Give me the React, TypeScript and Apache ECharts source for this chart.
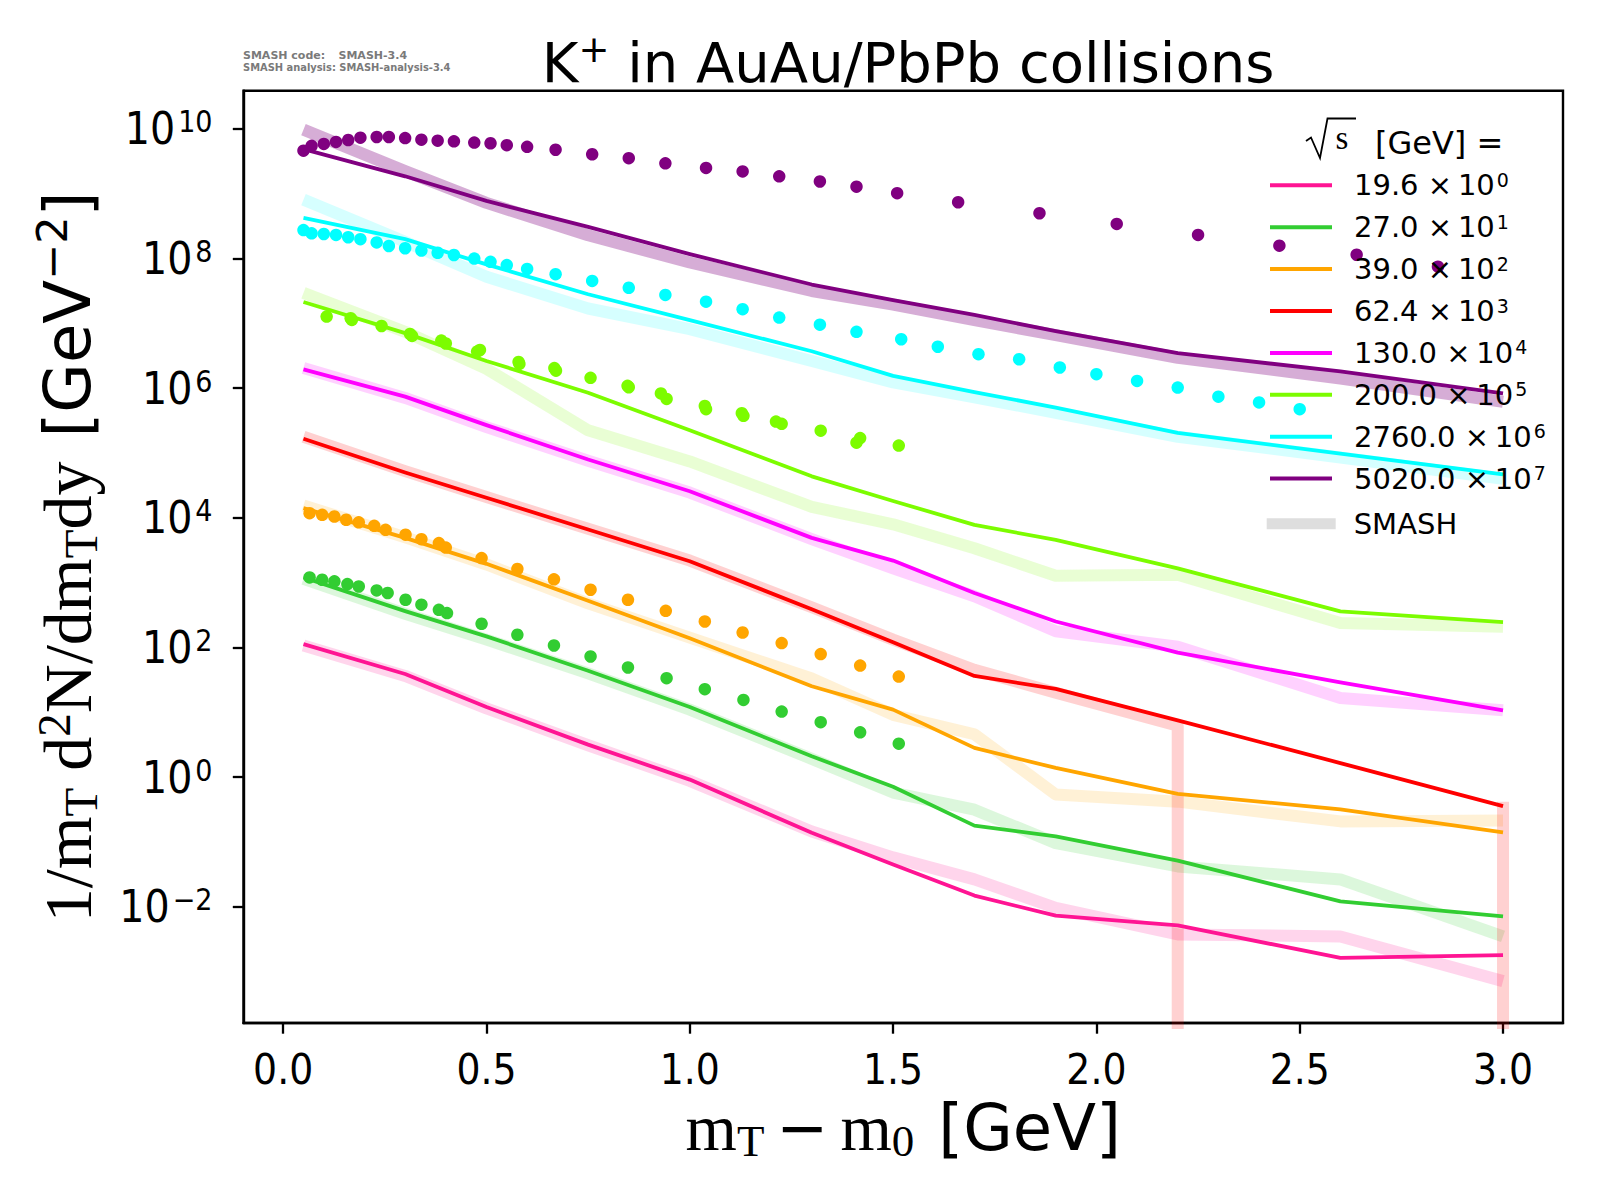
import React, { useEffect, useRef } from 'react';
import * as echarts from 'echarts';

// ---------- data (y values are log10 of 1/mT d2N/dmT dy, x is mT - m0 in GeV) ----------
const energies = ['19.6', '27.0', '39.0', '62.4', '130.0', '200.0', '2760.0', '5020.0'];
const scaleExponents = [0, 1, 2, 3, 4, 5, 6, 7];
const colors = ['#ff1493', '#32cd32', '#ffa500', '#ff0000', '#ff00ff', '#7cfc00', '#00ffff', '#800080'];
const bandAlpha = [0.18, 0.17, 0.16, 0.18, 0.18, 0.17, 0.16, 0.32];

const xTicks = [0, 0.5, 1.0, 1.5, 2.0, 2.5, 3.0];
const yTickExponents = [-2, 0, 2, 4, 6, 8, 10];

const lineX = [0.05, 0.3, 0.5, 0.75, 1.0, 1.3, 1.5, 1.7, 1.9, 2.2, 2.6, 3.0];

const line196 = [2.05, 1.59, 1.08, 0.5, -0.04, -0.86, -1.35, -1.83, -2.14, -2.29, -2.79, -2.75];
const line270 = [3.08, 2.56, 2.17, 1.64, 1.08, 0.32, -0.15, -0.75, -0.915, -1.29, -1.92, -2.15];
const line390 = [4.15, 3.69, 3.29, 2.72, 2.14, 1.4, 1.04, 0.45, 0.14, -0.26, -0.5, -0.855];
const line624 = [5.22, 4.7, 4.31, 3.82, 3.33, 2.59, 2.08, 1.56, 1.36, 0.875, 0.215, -0.45];
const line1300 = [6.29, 5.87, 5.43, 4.9, 4.41, 3.69, 3.34, 2.84, 2.4, 1.92, 1.46, 1.03];
const line2000 = [7.33, 6.85, 6.42, 5.93, 5.35, 4.64, 4.26, 3.89, 3.66, 3.22, 2.555, 2.39];
const line27600 = [8.63, 8.3, 7.91, 7.45, 7.05, 6.57, 6.19, 5.94, 5.7, 5.31, 4.99, 4.67];
const line50200 = [9.69, 9.27, 8.89, 8.49, 8.07, 7.6, 7.36, 7.13, 6.88, 6.54, 6.26, 5.92];

// SMASH bands
const ZERO_LOG = -8; // a value of zero, below the log axis
const band196 = [2.03, 1.56, 1.06, 0.49, -0.06, -0.84, -1.24, -1.58, -2.02, -2.43, -2.46, -3.15];
const band270 = [3.06, 2.52, 2.12, 1.6, 1.04, 0.28, -0.24, -0.505, -1.02, -1.38, -1.58, -2.46];
const band390 = [4.19, 3.7, 3.28, 2.68, 2.15, 1.52, 0.96, 0.66, -0.27, -0.38, -0.685, -0.67];
const band624X = [0.05, 0.3, 0.5, 0.75, 1.0, 1.3, 1.5, 1.7, 1.9, 2.2, 2.2, 3.0, 3.0];
const band624 = [5.25, 4.72, 4.32, 3.83, 3.34, 2.62, 2.12, 1.655, 1.3, 0.79, ZERO_LOG, ZERO_LOG, -0.38];
const band1300 = [6.31, 5.85, 5.4, 4.88, 4.39, 3.67, 3.22, 2.79, 2.25, 2.01, 1.22, 1.03];
const band2000 = [7.47, 6.87, 6.3, 5.35, 4.87, 4.17, 3.9, 3.53, 3.105, 3.12, 2.375, 2.32];
const band27600 = [8.91, 8.26, 7.72, 7.23, 6.91, 6.42, 6.09, 5.86, 5.62, 5.25, 4.93, 4.6];
const band50200 = [9.99, 9.35, 8.86, 8.36, 7.94, 7.5, 7.29, 7.05, 6.82, 6.47, 6.15, 5.79];

// measured points
const dots50200X = [0.05, 0.07, 0.1, 0.13, 0.16, 0.19, 0.23, 0.26, 0.3, 0.34, 0.38, 0.42, 0.47, 0.51, 0.55, 0.6, 0.67, 0.76, 0.85, 0.94, 1.04, 1.13, 1.22, 1.32, 1.41, 1.51, 1.66, 1.86, 2.05, 2.25, 2.45, 2.64, 2.84];
const dots50200Y = [9.665, 9.74, 9.77, 9.8, 9.83, 9.866, 9.877, 9.877, 9.86, 9.835, 9.82, 9.81, 9.79, 9.78, 9.75, 9.725, 9.68, 9.61, 9.55, 9.47, 9.4, 9.345, 9.27, 9.19, 9.11, 9.01, 8.87, 8.7, 8.535, 8.365, 8.2, 8.06, 7.875];
const dots27600X = [0.05, 0.07, 0.1, 0.13, 0.16, 0.19, 0.23, 0.26, 0.3, 0.34, 0.38, 0.42, 0.47, 0.51, 0.55, 0.6, 0.67, 0.76, 0.85, 0.94, 1.04, 1.13, 1.22, 1.32, 1.41, 1.52, 1.61, 1.71, 1.81, 1.91, 2.0, 2.1, 2.2, 2.3, 2.4, 2.5];
const dots27600Y = [8.44, 8.39, 8.38, 8.365, 8.33, 8.3, 8.25, 8.195, 8.16, 8.125, 8.09, 8.056, 8.0, 7.95, 7.9, 7.84, 7.76, 7.655, 7.55, 7.44, 7.335, 7.22, 7.09, 6.98, 6.87, 6.756, 6.64, 6.525, 6.447, 6.32, 6.216, 6.113, 6.01, 5.87, 5.78, 5.676];
const dots2000aX = [0.107, 0.166, 0.242, 0.312, 0.389, 0.477, 0.579, 0.667, 0.756, 0.847, 0.929, 1.037, 1.128, 1.212, 1.322, 1.419, 1.514];
const dots2000aY = [7.105, 7.08, 6.96, 6.838, 6.735, 6.565, 6.406, 6.31, 6.16, 6.036, 5.92, 5.727, 5.615, 5.485, 5.345, 5.23, 5.115];
const dots2000bX = [0.169, 0.317, 0.4, 0.484, 0.581, 0.671, 0.85, 0.943, 1.04, 1.132, 1.226, 1.41];
const dots2000bY = [7.054, 6.807, 6.69, 6.59, 6.375, 6.27, 6.015, 5.835, 5.676, 5.573, 5.45, 5.16];
const dots390X = [0.065, 0.096, 0.126, 0.155, 0.186, 0.224, 0.252, 0.301, 0.34, 0.383, 0.4, 0.488, 0.576, 0.666, 0.756, 0.848, 0.941, 1.037, 1.13, 1.226, 1.322, 1.419, 1.514];
const dots390Y = [4.072, 4.046, 4.02, 3.97, 3.93, 3.876, 3.815, 3.74, 3.67, 3.61, 3.54, 3.378, 3.21, 3.05, 2.89, 2.735, 2.565, 2.4, 2.23, 2.067, 1.897, 1.72, 1.55];
const dots270X = [0.065, 0.096, 0.126, 0.158, 0.186, 0.23, 0.257, 0.301, 0.34, 0.383, 0.403, 0.488, 0.576, 0.666, 0.756, 0.848, 0.943, 1.037, 1.132, 1.226, 1.322, 1.419, 1.514];
const dots270Y = [3.08, 3.044, 3.02, 2.977, 2.94, 2.88, 2.84, 2.735, 2.66, 2.58, 2.53, 2.365, 2.195, 2.03, 1.86, 1.69, 1.525, 1.355, 1.19, 1.01, 0.847, 0.69, 0.515];

// ---------- helpers ----------
const zip = (xs: number[], ys: number[]) => xs.map((x, i) => [x, ys[i]]);
const rgba = (hex: string, a: number) => {
  const n = parseInt(hex.slice(1), 16);
  return `rgba(${(n >> 16) & 255},${(n >> 8) & 255},${n & 255},${a})`;
};

const SANS = 'DejaVu Sans';
const SANS_TICK = "'DejaVu Sans Condensed', 'DejaVu Sans'";
const SERIF = 'Liberation Serif';

function buildOption() {
  const lines = [line196, line270, line390, line624, line1300, line2000, line27600, line50200];
  const bands = [band196, band270, band390, band624, band1300, band2000, band27600, band50200];
  const bandXs = [lineX, lineX, lineX, band624X, lineX, lineX, lineX, lineX];

  const series: any[] = [];
  bands.forEach((b, i) => {
    series.push({
      type: 'line',
      name: 'SMASH',
      data: zip(bandXs[i], b),
      symbol: 'none',
      silent: true,
      z: 1,
      lineStyle: { color: rgba(colors[i], bandAlpha[i]), width: 12, join: 'round', cap: 'butt' },
      itemStyle: { color: rgba(colors[i], bandAlpha[i]) },
    });
  });
  lines.forEach((l, i) => {
    series.push({
      type: 'line',
      name: energies[i],
      data: zip(lineX, l),
      symbol: 'none',
      silent: true,
      z: 2,
      lineStyle: { color: colors[i], width: 3.8, join: 'round' },
      itemStyle: { color: colors[i] },
    });
  });
  const dotSets = [
    { idx: 7, xs: dots50200X, ys: dots50200Y },
    { idx: 6, xs: dots27600X, ys: dots27600Y },
    { idx: 5, xs: dots2000aX, ys: dots2000aY },
    { idx: 5, xs: dots2000bX, ys: dots2000bY },
    { idx: 2, xs: dots390X, ys: dots390Y },
    { idx: 1, xs: dots270X, ys: dots270Y },
  ];
  dotSets.forEach((d, k) => {
    series.push({
      type: 'scatter',
      name: energies[d.idx] + ' data ' + k,
      data: zip(d.xs, d.ys),
      symbol: 'circle',
      symbolSize: 12.5,
      silent: true,
      z: 3,
      itemStyle: { color: colors[d.idx], opacity: 1 },
    });
  });

  const axisLineStyle = { color: '#000', width: 2.4 };
  const tickStyle = { color: '#000', width: 2.3 };

  return {
    animation: false,
    backgroundColor: '#ffffff',
    title: {
      text: 'K{p|+} in AuAu/PbPb collisions',
      left: 903,
      top: 26,
      textAlign: 'center',
      textStyle: {
        fontFamily: SANS, fontSize: 56, fontWeight: 'normal', color: '#000', lineHeight: 62,
        rich: { p: { fontFamily: SANS, fontSize: 37, lineHeight: 44, verticalAlign: 'top', color: '#000' } },
      },
    },
    grid: {
      left: 243.5, top: 90.7, right: 37, bottom: 177,
      show: true, borderColor: '#000', borderWidth: 2.4, backgroundColor: 'transparent',
      containLabel: false, outerBoundsMode: 'none',
    },
    xAxis: {
      type: 'value',
      min: -0.0975,
      max: 3.1475,
      splitLine: { show: false },
      axisLine: { show: true, onZero: false, lineStyle: axisLineStyle },
      axisTick: { show: true, inside: false, length: 10.7, lineStyle: tickStyle, customValues: xTicks },
      axisLabel: {
        customValues: xTicks,
        formatter: (v: number) => v.toFixed(1),
        margin: 25,
        fontFamily: SANS_TICK, fontSize: 42, color: '#000',
      },
      name: '{m|m}{sub|T}{op|−}{m|m}{sub|0}{g|[GeV]}',
      nameLocation: 'middle',
      nameGap: 66,
      nameTextStyle: {
        color: '#000',
        rich: {
          m: { fontFamily: SERIF, fontSize: 66, lineHeight: 72, color: '#000' },
          sub: { fontFamily: SERIF, fontSize: 45, lineHeight: 36, verticalAlign: 'bottom', color: '#000' },
          op: { fontFamily: SANS, fontSize: 62, lineHeight: 72, padding: [0, 12, 0, 12], color: '#000' },
          g: { fontFamily: SANS, fontSize: 64, lineHeight: 72, padding: [0, 0, 0, 24], color: '#000' },
        },
      },
    },
    yAxis: {
      type: 'value',
      min: -3.796,
      max: 10.591,
      splitLine: { show: false },
      axisLine: { show: true, onZero: false, lineStyle: axisLineStyle },
      axisTick: { show: true, inside: false, length: 10.7, lineStyle: tickStyle, customValues: yTickExponents },
      axisLabel: {
        customValues: yTickExponents,
        margin: 31,
        formatter: (v: number) => `{b|10}{s|${v < 0 ? '−' + Math.abs(v) : v}}`,
        rich: {
          b: { fontFamily: SANS_TICK, fontSize: 44, lineHeight: 44, color: '#000' },
          s: { fontFamily: SANS_TICK, fontSize: 30, lineHeight: 10, verticalAlign: 'top', padding: [0, 0, 0, 3], color: '#000' },
        },
      },
      name: '{r|1/m}{rs|T}{rp|d}{ru|2}{r|N/dm}{rs|T}{r|dy}{gp|[GeV}{gu|−2}{g|]}',
      nameLocation: 'middle',
      nameRotate: 90,
      nameGap: 139,
      nameTextStyle: {
        color: '#000',
        rich: {
          r: { fontFamily: SERIF, fontSize: 68, lineHeight: 74, color: '#000' },
          rp: { fontFamily: SERIF, fontSize: 68, lineHeight: 74, padding: [0, 0, 0, 17], color: '#000' },
          rs: { fontFamily: SERIF, fontSize: 47, lineHeight: 37, verticalAlign: 'bottom', color: '#000' },
          ru: { fontFamily: SERIF, fontSize: 47, lineHeight: 30, verticalAlign: 'top', color: '#000' },
          g: { fontFamily: SANS, fontSize: 64, lineHeight: 74, color: '#000' },
          gp: { fontFamily: SANS, fontSize: 64, lineHeight: 74, padding: [0, 0, 0, 24], color: '#000' },
          gu: { fontFamily: SANS, fontSize: 43, lineHeight: 30, verticalAlign: 'top', color: '#000' },
        },
      },
    },
    legend: [
      {
        orient: 'vertical',
        left: 1270,
        top: 170.3,
        padding: 0,
        itemWidth: 62,
        itemHeight: 4,
        itemGap: 12.4,
        icon: 'rect',
        selectedMode: false,
        data: energies,
        formatter: (name: string) => `{n|${name} ×\u200910}{s|${scaleExponents[energies.indexOf(name)]}}`,
        textStyle: {
          color: '#000', fontFamily: SANS, fontSize: 29,
          rich: {
            n: { fontFamily: SANS, fontSize: 29, lineHeight: 30, padding: [0, 0, 0, 17], color: '#000' },
            s: { fontFamily: SANS, fontSize: 19, lineHeight: 12, verticalAlign: 'top', padding: [0, 0, 0, 2], color: '#000' },
          },
        },
      },
      {
        orient: 'vertical',
        left: 1266.7,
        top: 509.3,
        padding: 0,
        itemWidth: 69,
        itemHeight: 11,
        icon: 'rect',
        selectedMode: false,
        data: [{ name: 'SMASH', itemStyle: { color: '#dedede', opacity: 1 } }],
        formatter: (name: string) => `{n|${name}}`,
        textStyle: {
          color: '#000', fontFamily: SANS, fontSize: 29,
          rich: { n: { fontFamily: SANS, fontSize: 29, lineHeight: 30, padding: [0, 0, 0, 13], color: '#000' } },
        },
      },
    ],
    graphic: [
      { type: 'text', x: 243, y: 55, style: { text: 'SMASH code:', fontFamily: SANS, fontSize: 11, fontWeight: 'bold', fill: '#7a7a7a', verticalAlign: 'middle' } },
      { type: 'text', x: 338.5, y: 55, style: { text: 'SMASH-3.4', fontFamily: SANS, fontSize: 11, fontWeight: 'bold', fill: '#7a7a7a', verticalAlign: 'middle' } },
      { type: 'text', x: 243, y: 67.7, style: { text: 'SMASH analysis:', fontFamily: SANS_TICK, fontSize: 11, fontWeight: 'bold', fill: '#7a7a7a', verticalAlign: 'middle' } },
      { type: 'text', x: 339.3, y: 67.7, style: { text: 'SMASH-analysis-3.4', fontFamily: SANS_TICK, fontSize: 11, fontWeight: 'bold', fill: '#7a7a7a', verticalAlign: 'middle' } },
      {
        type: 'polyline',
        shape: { points: [[1306, 141], [1311, 137.5], [1320, 158], [1327.5, 118.5], [1356, 118.5]] },
        style: { stroke: '#000', lineWidth: 1.8, fill: 'none' },
      },
      { type: 'text', x: 1342, y: 138.4, style: { text: 's', fontFamily: SERIF, fontSize: 33, fill: '#000', align: 'center', verticalAlign: 'middle' } },
      { type: 'text', x: 1375, y: 143, style: { text: '[GeV] =', fontFamily: SANS, fontSize: 32, fill: '#000', align: 'left', verticalAlign: 'middle' } },
    ],
    series,
  };
}

export default function App() {
  const ref = useRef<HTMLDivElement>(null);
  useEffect(() => {
    document.body.style.margin = '0';
    const chart = echarts.init(ref.current as HTMLDivElement, undefined, { renderer: 'svg' });
    chart.setOption(buildOption() as any);
    return () => chart.dispose();
  }, []);
  return <div ref={ref} style={{ width: 1600, height: 1200 }} />;
}
